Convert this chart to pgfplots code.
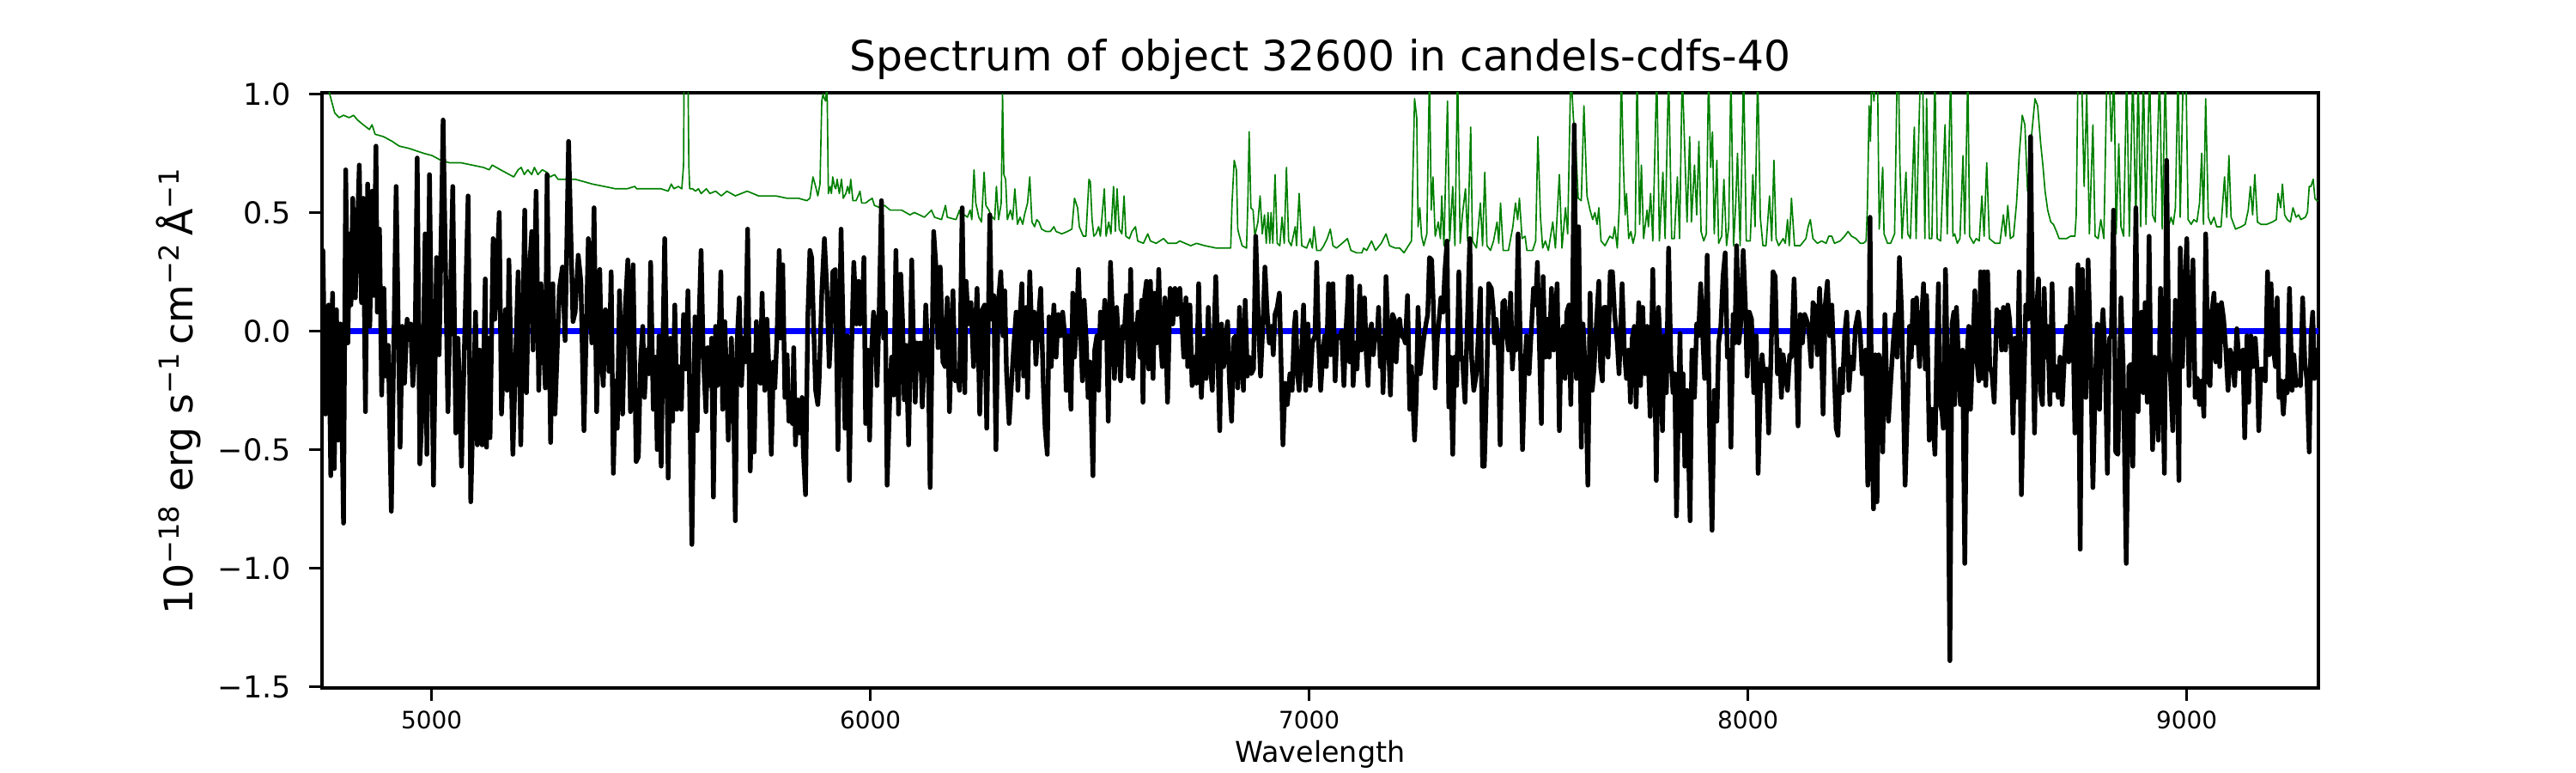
\documentclass[border=0pt]{standalone}
\usepackage{fontspec}
\setmainfont{DejaVu Sans}
\usepackage{pgfplots}
\pgfplotsset{compat=1.18}
\definecolor{mplgreen}{HTML}{008000}
\definecolor{mplblue}{HTML}{0000FF}
\begin{document}
\begin{tikzpicture}
\path[use as bounding box] (0,0) rectangle (720pt,216pt);
\begin{axis}[
  at={(90pt,23.76pt)}, anchor=south west,
  scale only axis, width=558pt, height=166.32pt,
  xmin=4750, xmax=9300, ymin=-1.505, ymax=1.005,
  axis line style={line width=0.8pt},
  tick style={line width=0.8pt, black},
  tick align=outside, major tick length=3.5pt,
  xtick={5000,6000,7000,8000,9000},
  xticklabels={5000,6000,7000,8000,9000},
  ytick={-1.5,-1,-0.5,0,0.5,1},
  yticklabels={−1.5,−1.0,−0.5,0.0,0.5,1.0},
  xtick pos=bottom, ytick pos=left,
  xticklabel style={font=\fontsize{6.7}{8}\selectfont, anchor=north, inner sep=0pt, yshift=-2.7pt},
  yticklabel style={font=\fontsize{8.4}{10}\selectfont, anchor=east, inner sep=0pt, xshift=-5pt},
  every axis title shift=0pt,
  title={Spectrum of object 32600 in candels-cdfs-40},
  title style={font=\fontsize{11.7}{14}\selectfont, at={(axis description cs:0.5,1)}, anchor=base, yshift=6pt, inner sep=0pt},
  xlabel={Wavelength},
  xlabel style={font=\fontsize{8}{10}\selectfont, at={(axis description cs:0.5,0)}, anchor=base, yshift=-20.7pt, inner sep=0pt},
  ylabel={10\textsuperscript{−18} erg s\textsuperscript{−1}\,cm\textsuperscript{−2}\,Å\textsuperscript{−1}},
  ylabel style={font=\fontsize{11}{13}\selectfont, at={(axis description cs:-0.0717,0.5)}, anchor=center, inner sep=0pt},
  clip=true,
]
% error spectrum (green)
\addplot[mplgreen, line width=0.4pt, line join=round] table {
x y
4750 1.10
4766 1.01
4779 0.92
4789 0.90
4799 0.91
4812 0.90
4822 0.91
4831 0.89
4844 0.87
4858 0.85
4864 0.87
4871 0.83
4890 0.82
4910 0.80
4926 0.78
4949 0.77
4965 0.76
4981 0.75
5001 0.74
5021 0.72
5040 0.71
5066 0.71
5092 0.70
5118 0.69
5131 0.68
5138 0.70
5157 0.68
5177 0.66
5187 0.65
5197 0.68
5204 0.69
5211 0.66
5219 0.68
5228 0.66
5234 0.69
5242 0.66
5252 0.68
5262 0.67
5270 0.65
5280 0.66
5288 0.64
5307 0.64
5327 0.64
5347 0.63
5366 0.62
5393 0.61
5419 0.60
5445 0.60
5463 0.61
5467 0.60
5490 0.60
5523 0.60
5539 0.59
5546 0.62
5552 0.60
5562 0.61
5570 0.60
5574 0.70
5576 1.30
5583 1.30
5586 0.70
5588 0.60
5595 0.60
5601 0.59
5608 0.60
5614 0.58
5626 0.60
5634 0.58
5647 0.59
5660 0.57
5673 0.59
5692 0.57
5719 0.59
5745 0.57
5771 0.57
5784 0.57
5810 0.56
5836 0.56
5855 0.55
5862 0.56
5869 0.65
5875 0.61
5880 0.57
5885 0.62
5889 0.97
5892 1.00
5895 0.98
5898 0.97
5901 1.05
5904 0.58
5908 0.61
5911 0.58
5914 0.65
5918 0.61
5921 0.60
5924 0.64
5929 0.58
5934 0.64
5938 0.56
5944 0.58
5948 0.61
5952 0.58
5955 0.64
5960 0.55
5967 0.55
5972 0.57
5976 0.59
5980 0.54
5989 0.54
5996 0.55
6004 0.56
6009 0.53
6022 0.52
6032 0.53
6045 0.51
6071 0.51
6090 0.49
6100 0.50
6123 0.48
6139 0.51
6146 0.48
6162 0.47
6171 0.53
6175 0.48
6195 0.47
6203 0.51
6208 0.47
6214 0.49
6221 0.48
6227 0.51
6231 0.47
6236 0.68
6240 0.54
6247 0.48
6253 0.46
6259 0.67
6263 0.53
6270 0.51
6274 0.49
6278 0.48
6283 0.47
6287 0.61
6292 0.47
6298 0.54
6301 1.00
6304 0.66
6308 0.64
6312 0.47
6319 0.51
6324 0.47
6329 0.60
6335 0.45
6341 0.48
6347 0.45
6351 0.49
6358 0.54
6363 0.65
6368 0.46
6374 0.44
6379 0.47
6384 0.46
6390 0.43
6400 0.42
6410 0.42
6418 0.44
6423 0.42
6436 0.41
6449 0.42
6459 0.43
6465 0.56
6472 0.52
6476 0.44
6485 0.40
6491 0.40
6498 0.64
6501 0.63
6505 0.47
6509 0.40
6514 0.41
6520 0.44
6524 0.40
6533 0.60
6537 0.40
6543 0.46
6548 0.41
6554 0.61
6558 0.42
6562 0.60
6567 0.43
6573 0.41
6578 0.57
6582 0.40
6590 0.39
6596 0.42
6604 0.44
6609 0.38
6622 0.37
6632 0.41
6638 0.38
6651 0.37
6668 0.39
6678 0.37
6697 0.37
6705 0.38
6717 0.37
6730 0.36
6743 0.37
6762 0.36
6788 0.35
6821 0.35
6824 0.54
6829 0.72
6834 0.68
6837 0.43
6841 0.40
6847 0.36
6857 0.35
6860 0.54
6863 0.84
6867 0.52
6872 0.51
6876 0.40
6883 0.46
6888 0.57
6893 0.41
6898 0.49
6902 0.37
6906 0.50
6910 0.37
6913 0.50
6917 0.37
6922 0.66
6927 0.37
6933 0.36
6938 0.48
6943 0.37
6948 0.69
6953 0.38
6959 0.36
6968 0.44
6971 0.36
6977 0.58
6983 0.36
6994 0.35
7002 0.39
7007 0.35
7011 0.44
7017 0.34
7026 0.34
7033 0.36
7041 0.39
7048 0.43
7054 0.36
7062 0.35
7075 0.37
7087 0.39
7095 0.34
7108 0.33
7120 0.33
7124 0.35
7131 0.34
7142 0.38
7151 0.34
7164 0.37
7175 0.41
7183 0.36
7196 0.35
7206 0.35
7216 0.33
7226 0.36
7233 0.38
7240 0.98
7245 0.90
7248 0.44
7252 0.52
7256 0.40
7261 0.36
7268 0.41
7274 1.10
7278 0.51
7282 0.65
7287 0.40
7294 0.46
7299 0.39
7302 0.57
7307 0.36
7315 0.97
7320 0.38
7327 0.61
7332 0.36
7338 1.10
7344 0.37
7349 0.49
7356 0.60
7361 0.38
7368 0.86
7372 0.38
7381 0.35
7390 0.54
7395 0.36
7400 0.67
7405 0.36
7413 0.34
7420 0.38
7428 0.46
7432 0.37
7436 0.54
7442 0.34
7454 0.34
7464 0.44
7470 0.54
7475 0.47
7479 0.56
7485 0.39
7492 0.40
7496 0.34
7509 0.34
7516 0.38
7521 0.82
7527 0.48
7532 0.35
7538 0.38
7545 0.34
7555 0.46
7561 0.35
7570 0.66
7576 0.35
7584 0.52
7589 0.41
7596 1.10
7602 0.90
7607 0.79
7613 0.56
7620 0.55
7626 0.95
7633 0.57
7640 0.51
7646 0.47
7651 0.50
7656 0.45
7660 0.52
7665 0.38
7674 0.36
7685 0.40
7692 0.39
7696 0.44
7702 0.35
7707 0.54
7711 1.10
7716 0.70
7720 0.49
7723 0.58
7728 0.39
7733 0.42
7738 0.37
7743 0.41
7747 1.10
7753 0.45
7757 0.70
7762 0.39
7770 0.51
7773 0.44
7778 0.58
7783 0.38
7792 1.10
7798 0.38
7806 0.67
7811 0.39
7819 1.10
7826 0.39
7832 0.39
7839 0.65
7844 0.39
7850 1.10
7856 0.75
7861 0.46
7867 0.82
7871 0.46
7878 0.70
7883 0.49
7888 0.80
7893 0.42
7899 0.38
7905 0.41
7910 1.10
7915 0.69
7919 0.84
7923 0.41
7929 0.72
7933 0.37
7940 0.40
7945 0.64
7951 0.36
7956 0.44
7961 1.10
7967 0.36
7972 0.54
7976 0.75
7982 0.36
7990 1.10
7996 0.38
8005 0.38
8011 0.66
8016 0.44
8022 1.10
8028 0.48
8034 0.36
8041 0.36
8049 0.57
8054 0.38
8059 0.72
8064 0.39
8070 0.36
8080 0.39
8085 0.37
8090 0.47
8094 0.36
8099 0.56
8106 0.36
8119 0.36
8132 0.39
8137 0.44
8142 0.47
8148 0.39
8158 0.37
8168 0.38
8178 0.37
8184 0.40
8191 0.40
8197 0.37
8210 0.38
8220 0.40
8228 0.42
8236 0.40
8246 0.39
8256 0.37
8263 0.37
8269 0.38
8272 0.52
8276 0.95
8279 0.80
8282 1.10
8287 0.97
8291 1.10
8295 1.10
8299 0.43
8303 0.56
8307 0.69
8310 0.41
8318 0.37
8325 0.37
8334 0.41
8340 1.10
8343 1.10
8346 0.71
8351 0.39
8360 0.67
8364 0.41
8370 0.39
8379 0.86
8383 0.39
8393 1.10
8398 1.10
8403 0.39
8407 0.98
8413 0.39
8419 0.39
8426 1.10
8431 0.39
8439 0.38
8449 0.87
8454 0.41
8462 1.10
8467 0.40
8471 0.41
8477 0.37
8483 0.39
8490 0.74
8494 0.41
8501 1.10
8505 0.40
8514 0.37
8520 0.39
8527 0.38
8533 0.57
8538 0.40
8544 0.71
8550 0.39
8563 0.37
8574 0.37
8582 0.49
8587 0.40
8592 0.53
8598 0.39
8605 0.40
8612 0.54
8618 0.74
8625 0.91
8631 0.87
8637 0.59
8646 0.82
8654 0.98
8660 0.95
8667 0.79
8672 0.70
8677 0.59
8683 0.51
8690 0.46
8696 0.45
8703 0.42
8709 0.39
8719 0.39
8726 0.39
8735 0.40
8745 0.40
8748 0.49
8752 1.10
8760 1.10
8766 0.61
8772 1.00
8778 0.41
8786 0.87
8791 0.40
8798 0.39
8804 0.47
8811 0.39
8818 1.10
8823 1.10
8828 0.80
8834 1.10
8839 0.41
8845 0.79
8850 0.44
8856 0.40
8863 1.10
8869 0.40
8877 1.10
8884 0.44
8889 1.10
8895 0.44
8901 1.10
8907 0.45
8915 1.10
8922 0.49
8928 0.46
8938 1.10
8944 0.43
8951 1.10
8957 0.43
8964 0.48
8969 0.45
8974 0.52
8980 1.10
8985 0.48
8992 1.10
8998 1.10
9003 0.47
9010 0.45
9016 0.47
9023 0.46
9029 0.54
9034 0.75
9038 0.45
9043 0.98
9049 0.48
9055 0.45
9062 0.48
9068 0.44
9078 0.44
9086 0.65
9091 0.48
9096 0.74
9101 0.48
9111 0.43
9124 0.44
9133 0.45
9140 0.51
9145 0.61
9150 0.49
9155 0.66
9161 0.46
9169 0.45
9182 0.45
9195 0.46
9204 0.47
9208 0.58
9214 0.52
9218 0.62
9223 0.49
9229 0.47
9236 0.46
9242 0.52
9249 0.48
9255 0.49
9260 0.47
9270 0.48
9275 0.50
9279 0.61
9283 0.61
9288 0.64
9292 0.56
9296 0.55
9300 0.55
};
% zero line (blue)
\addplot[mplblue, line width=1.6pt] coordinates {(4750,0) (9300,0)};
% flux (black)
\addplot[black, line width=1.3pt, line join=round] table {
x y
4750 0.34
4752 0.34
4758 -0.35
4765 0.11
4770 -0.61
4774 0.16
4778 -0.58
4783 0.09
4787 -0.46
4792 0.03
4799 -0.81
4804 0.68
4809 -0.05
4813 0.41
4816 0.11
4820 0.56
4826 0.14
4835 0.70
4840 0.12
4844 0.56
4849 -0.34
4854 0.62
4859 0.02
4864 0.59
4868 0.15
4873 0.78
4876 0.08
4881 0.43
4886 -0.27
4891 0.18
4895 -0.19
4901 -0.06
4908 -0.76
4919 0.61
4928 -0.49
4933 0.02
4938 -0.22
4944 0.05
4948 -0.02
4952 0.03
4957 -0.23
4962 -0.07
4967 0.73
4973 -0.56
4979 -0.31
4985 0.41
4989 -0.52
4995 0.66
5004 -0.65
5011 0.31
5017 -0.10
5026 0.89
5037 -0.34
5048 0.61
5055 -0.43
5060 -0.03
5068 -0.57
5083 0.57
5089 -0.72
5100 0.08
5104 -0.48
5109 -0.08
5115 -0.48
5122 0.22
5125 -0.49
5129 -0.03
5133 -0.45
5140 0.39
5144 0.05
5154 0.50
5159 -0.35
5168 0.09
5172 -0.25
5176 0.30
5185 -0.52
5197 0.25
5203 -0.48
5212 0.51
5216 -0.26
5221 0.20
5228 0.42
5231 -0.08
5238 0.59
5244 -0.25
5249 0.20
5253 0.02
5259 -0.24
5263 0.66
5271 -0.47
5276 0.20
5281 -0.35
5291 0.18
5298 0.27
5304 -0.04
5312 0.80
5322 0.04
5327 0.08
5334 0.32
5340 0.21
5347 -0.42
5352 -0.02
5357 0.39
5361 0.18
5365 -0.05
5370 0.52
5376 -0.34
5383 0.26
5387 -0.11
5391 -0.23
5396 0.09
5400 0.05
5404 -0.17
5409 0.25
5414 -0.60
5419 -0.21
5423 -0.41
5428 0.17
5435 -0.35
5441 0.09
5447 0.30
5453 -0.34
5459 0.28
5466 -0.55
5471 -0.53
5476 -0.13
5481 0.02
5485 -0.28
5490 -0.08
5495 -0.18
5499 0.29
5505 -0.33
5510 -0.11
5514 -0.50
5518 -0.02
5523 -0.57
5527 -0.05
5531 0.39
5536 -0.20
5539 -0.62
5544 -0.03
5549 -0.38
5554 0.11
5559 -0.33
5563 -0.15
5569 -0.33
5574 0.07
5579 -0.16
5584 0.17
5588 -0.28
5593 -0.90
5600 0.06
5605 -0.42
5609 0.03
5614 0.34
5619 -0.11
5625 -0.34
5629 -0.07
5634 -0.23
5638 -0.03
5642 -0.70
5647 0.02
5651 -0.23
5655 -0.02
5659 0.25
5663 -0.33
5668 0.04
5672 -0.20
5676 -0.46
5683 -0.03
5688 -0.30
5692 -0.80
5696 -0.05
5701 0.14
5706 -0.23
5711 -0.03
5715 -0.13
5720 0.43
5726 -0.59
5732 -0.10
5735 -0.51
5740 0.04
5745 -0.20
5749 -0.22
5753 0.16
5759 -0.25
5764 0.05
5769 -0.18
5774 -0.52
5779 -0.13
5782 -0.24
5787 -0.02
5792 0.34
5795 -0.03
5800 0.28
5805 -0.28
5810 -0.10
5814 -0.38
5818 -0.30
5822 -0.39
5825 -0.07
5829 -0.48
5834 -0.29
5839 -0.43
5844 -0.28
5847 -0.51
5852 -0.69
5857 0.05
5862 0.34
5866 0.31
5870 0.05
5875 -0.25
5880 -0.31
5883 -0.21
5889 0.16
5895 0.39
5901 0.16
5906 -0.15
5911 0.05
5914 0.25
5920 0.26
5926 -0.50
5933 0.43
5938 -0.03
5942 -0.41
5947 -0.02
5952 -0.63
5956 -0.15
5962 0.29
5968 0.03
5973 0.21
5976 0.03
5981 0.05
5985 0.31
5989 -0.39
5994 -0.08
5998 -0.46
6002 -0.11
6007 0.08
6011 0.03
6015 -0.23
6020 0.10
6025 0.55
6030 -0.03
6034 0.08
6038 -0.65
6044 -0.28
6048 -0.11
6053 -0.27
6058 0.34
6064 -0.35
6069 0.24
6073 0.05
6077 -0.29
6081 -0.06
6087 -0.48
6094 0.30
6098 -0.04
6102 -0.30
6106 -0.05
6110 -0.16
6114 -0.05
6118 -0.32
6122 -0.15
6126 0.11
6132 -0.16
6136 -0.66
6144 0.42
6149 0.28
6154 -0.07
6159 0.27
6165 -0.13
6170 -0.15
6175 0.14
6180 -0.34
6184 -0.08
6188 0.17
6193 -0.21
6199 -0.20
6203 -0.25
6209 0.52
6215 -0.26
6218 0.21
6223 0.03
6229 0.12
6235 -0.15
6243 0.18
6249 -0.35
6255 0.09
6260 0.11
6265 -0.41
6272 0.49
6276 0.05
6281 0.15
6286 -0.50
6291 0.11
6297 0.25
6302 -0.02
6306 0.17
6310 -0.17
6316 -0.39
6321 -0.23
6326 -0.08
6332 0.08
6336 -0.25
6340 0.03
6345 0.20
6349 -0.19
6355 0.10
6358 -0.28
6363 0.25
6368 -0.03
6373 0.08
6377 -0.14
6383 0.05
6388 0.18
6394 -0.23
6398 -0.41
6403 -0.52
6407 0.06
6412 -0.15
6418 0.11
6423 -0.11
6428 0.07
6433 -0.02
6438 0.08
6443 -0.02
6446 -0.25
6450 -0.02
6457 -0.33
6461 0.16
6465 -0.11
6470 0.05
6474 0.26
6479 -0.02
6483 -0.21
6487 0.13
6492 -0.05
6496 -0.28
6500 -0.13
6507 -0.61
6511 -0.08
6516 -0.02
6520 -0.25
6524 0.08
6529 -0.03
6534 0.13
6538 0.02
6542 -0.38
6547 0.29
6552 0.05
6556 -0.20
6561 0.10
6565 -0.03
6570 -0.21
6575 0.02
6578 -0.03
6583 0.15
6588 -0.19
6593 0.26
6598 -0.20
6603 0.03
6606 -0.02
6610 0.08
6614 -0.11
6618 0.13
6621 -0.30
6625 0.15
6629 0.21
6634 -0.16
6638 0.21
6644 -0.20
6648 0.16
6653 -0.05
6657 0.26
6661 -0.03
6665 -0.15
6671 0.14
6677 -0.30
6683 0.18
6689 0.03
6694 0.18
6699 0.07
6705 0.18
6710 0.03
6714 -0.11
6719 0.14
6723 -0.15
6728 0.11
6733 -0.23
6738 -0.11
6743 -0.22
6748 0.20
6754 -0.28
6760 -0.03
6765 -0.20
6770 0.10
6774 -0.13
6779 -0.25
6787 0.23
6796 -0.42
6800 0.03
6805 -0.15
6809 -0.03
6814 0.04
6818 -0.21
6823 -0.38
6828 -0.03
6833 -0.02
6837 -0.24
6841 0.10
6846 -0.11
6850 -0.25
6854 0.13
6859 -0.19
6863 -0.11
6868 -0.18
6873 -0.16
6878 0.40
6884 0.05
6889 -0.19
6895 0.05
6899 0.27
6904 0.08
6909 -0.05
6914 0.02
6918 -0.10
6922 0.07
6927 0.10
6932 0.16
6936 -0.15
6940 -0.48
6945 -0.22
6950 -0.31
6956 -0.18
6961 -0.25
6966 0.02
6969 0.08
6973 -0.18
6977 -0.25
6983 -0.07
6987 0.11
6992 -0.25
6997 0.03
7002 -0.23
7007 -0.05
7013 -0.02
7017 0.29
7021 -0.03
7026 -0.25
7031 -0.10
7035 -0.02
7039 -0.15
7044 0.20
7049 -0.10
7054 0.20
7059 -0.21
7063 -0.02
7069 -0.03
7074 0.00
7079 -0.23
7083 -0.02
7088 0.15
7089 0.23
7092 -0.13
7096 0.23
7100 -0.23
7105 -0.05
7109 -0.16
7115 0.19
7119 -0.08
7123 0.02
7126 0.14
7130 -0.10
7134 -0.23
7138 0.00
7142 0.03
7146 -0.10
7151 0.00
7155 -0.02
7158 0.10
7162 -0.15
7166 -0.03
7168 -0.26
7172 -0.05
7175 0.23
7180 -0.03
7185 -0.27
7190 0.07
7194 0.05
7198 -0.13
7202 0.02
7206 0.05
7210 -0.02
7216 -0.03
7219 -0.05
7224 0.15
7229 -0.33
7233 -0.15
7240 -0.46
7244 -0.28
7248 0.10
7253 -0.18
7257 -0.10
7261 -0.03
7266 0.03
7270 0.07
7274 0.31
7279 0.30
7283 0.10
7287 -0.24
7292 -0.03
7296 0.05
7300 0.14
7305 0.08
7309 0.25
7314 0.38
7318 -0.32
7322 -0.11
7327 -0.52
7331 -0.11
7336 -0.23
7341 0.25
7346 -0.12
7349 -0.11
7355 -0.30
7361 0.08
7366 0.39
7370 -0.11
7375 -0.25
7381 -0.18
7385 -0.03
7390 0.18
7395 -0.57
7399 -0.57
7405 -0.17
7409 0.20
7415 0.18
7419 0.10
7422 -0.05
7426 0.05
7431 -0.08
7435 -0.48
7441 0.12
7445 0.13
7449 0.00
7454 -0.08
7459 0.16
7463 -0.16
7467 -0.02
7471 -0.08
7476 0.41
7481 -0.05
7486 -0.50
7491 -0.18
7495 -0.02
7501 -0.18
7506 0.00
7511 0.18
7516 0.11
7520 0.29
7524 -0.02
7529 -0.39
7533 0.23
7538 -0.11
7543 0.05
7547 -0.11
7552 0.18
7557 -0.08
7561 0.07
7565 0.20
7570 -0.42
7574 -0.02
7579 0.02
7583 -0.20
7587 0.08
7592 0.11
7596 -0.31
7600 0.07
7604 0.87
7609 -0.20
7614 0.44
7620 -0.49
7624 0.03
7630 -0.21
7635 -0.65
7640 0.16
7645 -0.25
7649 -0.16
7655 0.05
7660 0.21
7664 -0.15
7668 -0.21
7672 0.10
7676 0.10
7681 -0.11
7686 0.25
7691 0.25
7696 0.07
7702 -0.05
7706 -0.18
7710 0.02
7713 0.20
7718 -0.08
7723 -0.20
7728 -0.08
7732 -0.30
7736 -0.03
7741 0.02
7745 -0.32
7751 0.12
7755 -0.23
7760 0.10
7765 -0.18
7770 0.02
7777 -0.36
7783 0.26
7788 -0.25
7791 -0.63
7796 0.10
7801 -0.11
7805 -0.42
7809 -0.02
7814 -0.26
7819 0.35
7824 -0.11
7829 -0.26
7833 -0.18
7837 -0.78
7842 -0.25
7845 -0.01
7848 -0.42
7852 -0.18
7856 -0.57
7861 -0.25
7868 -0.80
7872 -0.08
7878 -0.28
7883 0.03
7887 -0.02
7892 0.20
7897 -0.03
7901 -0.20
7907 0.32
7912 -0.38
7918 -0.84
7923 -0.25
7929 -0.38
7933 -0.05
7938 0.02
7943 0.23
7948 0.33
7953 -0.11
7957 -0.08
7961 -0.49
7966 0.07
7970 -0.05
7974 0.36
7979 -0.05
7983 0.02
7989 0.34
7994 0.11
7998 -0.19
8003 0.08
8008 0.05
8013 -0.26
8019 -0.02
8023 -0.60
8028 -0.25
8032 -0.10
8037 -0.21
8042 -0.16
8047 -0.43
8052 -0.13
8057 0.25
8062 0.23
8067 -0.18
8072 -0.08
8076 -0.28
8080 -0.10
8085 -0.18
8090 -0.25
8095 -0.10
8099 -0.11
8105 0.22
8109 -0.03
8114 -0.40
8119 0.07
8124 -0.05
8129 0.07
8133 0.05
8138 0.02
8144 -0.15
8148 0.12
8153 0.10
8158 -0.10
8163 0.18
8166 0.05
8171 -0.35
8176 0.11
8181 0.21
8186 -0.02
8191 0.11
8196 -0.15
8201 -0.41
8205 -0.44
8210 -0.16
8215 -0.26
8220 -0.02
8225 0.08
8230 -0.25
8235 -0.11
8240 -0.16
8245 0.02
8251 0.08
8256 -0.02
8260 -0.18
8263 -0.11
8268 -0.08
8273 -0.65
8278 0.48
8282 -0.41
8286 -0.75
8290 -0.10
8294 -0.72
8298 -0.10
8303 -0.15
8307 -0.51
8312 0.07
8316 -0.21
8320 -0.38
8324 -0.25
8328 -0.13
8332 -0.02
8336 0.07
8340 -0.11
8345 0.31
8350 0.08
8354 -0.28
8358 -0.65
8364 -0.28
8368 0.02
8372 -0.11
8376 0.13
8380 -0.05
8384 0.14
8388 -0.05
8391 -0.15
8395 0.03
8400 0.20
8404 -0.16
8407 0.15
8413 -0.46
8417 -0.35
8420 -0.33
8426 -0.52
8430 -0.10
8434 0.20
8437 -0.30
8442 -0.34
8445 -0.41
8450 0.26
8454 -0.11
8460 -1.39
8465 0.03
8469 0.08
8471 -0.31
8475 0.10
8480 -0.13
8484 -0.31
8489 -0.08
8494 -0.98
8499 -0.11
8503 0.02
8507 -0.33
8512 -0.08
8517 0.17
8521 -0.11
8526 -0.21
8530 0.25
8534 -0.20
8538 0.25
8542 -0.23
8546 0.25
8551 -0.15
8556 -0.18
8561 -0.30
8567 0.09
8570 -0.02
8574 0.08
8578 -0.08
8582 0.10
8587 -0.08
8592 0.11
8596 0.05
8600 -0.08
8604 -0.43
8608 -0.03
8613 -0.28
8618 0.25
8623 -0.69
8628 -0.28
8633 0.11
8638 0.05
8644 0.82
8649 -0.03
8653 -0.43
8657 0.06
8662 0.22
8666 -0.25
8671 -0.31
8675 0.18
8679 -0.11
8683 0.02
8688 -0.31
8693 0.20
8698 -0.25
8702 -0.15
8707 -0.28
8711 -0.11
8716 -0.31
8720 -0.15
8726 0.02
8731 -0.13
8736 0.18
8741 -0.02
8745 -0.43
8749 -0.05
8752 0.28
8757 -0.92
8762 0.26
8766 -0.23
8770 -0.28
8775 0.30
8781 -0.11
8786 -0.66
8791 -0.25
8796 0.03
8801 -0.33
8805 -0.03
8809 0.09
8814 -0.11
8819 -0.60
8824 -0.03
8828 -0.02
8833 0.51
8838 -0.51
8843 -0.52
8850 0.14
8855 -0.15
8862 -0.98
8868 -0.15
8873 -0.14
8877 -0.57
8884 0.52
8889 -0.34
8893 -0.05
8897 0.08
8901 -0.26
8905 0.12
8910 -0.30
8914 0.40
8918 -0.18
8922 -0.50
8927 -0.11
8931 -0.21
8935 -0.46
8940 0.18
8944 -0.15
8949 -0.60
8954 0.72
8959 -0.11
8963 -0.20
8968 -0.42
8974 0.13
8978 -0.11
8982 -0.63
8985 0.35
8990 -0.15
8995 0.17
9000 0.39
9005 -0.23
9010 0.11
9014 0.30
9019 -0.28
9024 -0.20
9029 -0.31
9034 -0.21
9039 -0.36
9043 0.41
9049 -0.21
9053 -0.23
9057 0.08
9062 0.16
9066 -0.13
9070 0.11
9075 -0.15
9079 0.12
9084 0.05
9089 -0.08
9094 -0.25
9099 -0.08
9104 -0.11
9109 -0.23
9114 0.01
9120 -0.16
9123 -0.15
9128 -0.08
9132 -0.45
9137 -0.02
9141 -0.30
9146 -0.02
9151 -0.15
9156 -0.03
9161 -0.18
9164 -0.42
9169 -0.16
9174 -0.16
9179 -0.21
9184 0.25
9188 -0.10
9192 0.20
9197 -0.07
9202 -0.15
9206 0.14
9210 -0.28
9215 -0.21
9220 -0.35
9225 -0.21
9229 -0.26
9234 0.18
9240 -0.25
9244 -0.10
9249 -0.23
9254 -0.21
9259 -0.23
9264 0.14
9269 -0.13
9274 -0.21
9279 -0.51
9283 -0.02
9287 0.08
9291 -0.20
9295 -0.08
9298 -0.11
};
\end{axis}
\end{tikzpicture}
\end{document}
